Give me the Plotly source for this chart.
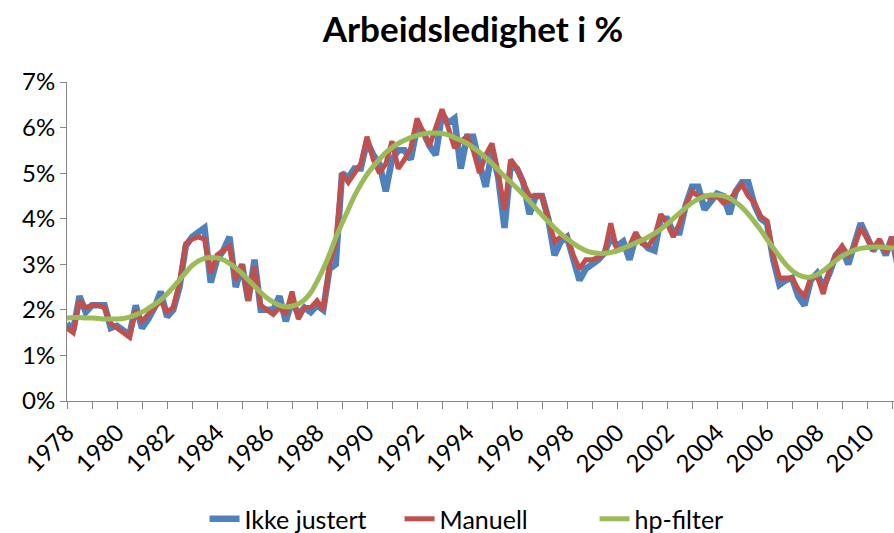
import plotly.graph_objects as go

start_year = 1978
# Quarterly unemployment rate (%), 1978Q1 onward
ikke_justert = [
    1.7, 1.55, 2.3, 1.95, 2.1, 2.1, 2.1, 1.6, 1.65, 1.55, 1.45, 2.1, 1.6, 1.8, 2.05, 2.4,
    1.85, 2.0, 2.5, 3.4, 3.6, 3.7, 3.8, 2.6, 3.1, 3.3, 3.6, 2.5, 3.0, 2.2, 3.1, 2.0,
    2.0, 2.0, 2.3, 1.75, 2.2, 1.9, 2.05, 1.95, 2.1, 2.0, 2.9, 3.0, 5.0, 4.9, 5.1, 5.1,
    5.7, 5.4, 5.2, 4.6, 5.3, 5.5, 5.5, 5.3, 6.0, 5.9, 5.6, 5.4, 6.3, 6.1, 6.2, 5.1,
    5.8, 5.8, 5.2, 4.7, 5.5, 4.9, 3.8, 5.2, 5.1, 4.8, 4.1, 4.5, 4.5, 4.0, 3.2, 3.5,
    3.6, 3.1, 2.65, 2.9, 3.0, 3.1, 3.25, 3.6, 3.4, 3.5, 3.1, 3.6, 3.5, 3.35, 3.3, 4.0,
    4.0, 3.7, 3.7, 4.3, 4.7, 4.7, 4.2, 4.4, 4.55, 4.5, 4.1, 4.6, 4.8, 4.8, 4.3, 4.0,
    3.9, 3.1, 2.55, 2.65, 2.7, 2.3, 2.1, 2.65, 2.8, 2.5, 2.8, 3.2, 3.35, 3.0, 3.4, 3.9,
    3.6, 3.3, 3.5, 3.2, 3.6, 2.9,
]
manuell = [
    1.6, 1.5, 2.2, 2.05, 2.1, 2.1, 2.05, 1.7, 1.6, 1.5, 1.4, 2.0, 1.75, 1.9, 2.05, 2.2,
    1.95, 2.05, 2.6, 3.45, 3.55, 3.6, 3.55, 2.8, 3.2, 3.3, 3.4, 2.65, 3.0, 2.2, 2.95, 2.1,
    2.0, 1.9, 2.05, 1.9, 2.4, 1.8, 2.05, 2.05, 2.2, 2.0, 3.0, 3.5, 5.0, 4.8, 5.0, 5.2,
    5.8, 5.3, 5.0, 5.2, 5.7, 5.1, 5.3, 5.55, 6.2, 5.9, 5.6, 6.0, 6.4, 6.0, 5.55, 5.7,
    5.8, 5.5, 5.0, 5.4, 5.65, 5.0, 4.2, 5.3, 5.1, 4.8, 4.5, 4.5, 4.5, 4.0, 3.5, 3.6,
    3.6, 3.2, 2.9, 3.1, 3.1, 3.15, 3.25, 3.9, 3.3, 3.35, 3.4, 3.7, 3.45, 3.4, 3.6, 4.1,
    3.9, 3.6, 3.9, 4.3, 4.6, 4.5, 4.5, 4.45, 4.5, 4.35, 4.4, 4.6, 4.75, 4.5, 4.35, 4.05,
    3.95, 3.2, 2.7, 2.7, 2.7, 2.45, 2.3, 2.7, 2.75, 2.35, 2.9, 3.2, 3.4, 3.2, 3.4, 3.8,
    3.55, 3.35, 3.55, 3.25, 3.6, 2.9,
]
hp_filter = [
    1.82, 1.83, 1.83, 1.82, 1.82, 1.81, 1.80, 1.80, 1.80, 1.81, 1.84, 1.89, 1.95, 2.03, 2.12, 2.22,
    2.35, 2.50, 2.66, 2.82, 2.97, 3.07, 3.13, 3.15, 3.14, 3.10, 3.02, 2.92, 2.80, 2.66, 2.52, 2.38,
    2.26, 2.17, 2.10, 2.07, 2.08, 2.13, 2.22, 2.38, 2.62, 2.90, 3.22, 3.58, 3.90, 4.20, 4.50, 4.75,
    4.97, 5.15, 5.30, 5.45, 5.56, 5.65, 5.72, 5.78, 5.83, 5.86, 5.88, 5.88, 5.87, 5.84, 5.78, 5.72,
    5.65, 5.56, 5.46, 5.34, 5.21, 5.07, 4.93, 4.80, 4.67, 4.53, 4.38, 4.23, 4.08, 3.94, 3.80, 3.67,
    3.56, 3.46, 3.37, 3.30, 3.26, 3.24, 3.24, 3.26, 3.30, 3.35, 3.41, 3.47, 3.53, 3.60, 3.68, 3.77,
    3.88, 4.00, 4.12, 4.24, 4.35, 4.43, 4.49, 4.52, 4.52, 4.50, 4.45, 4.36, 4.25, 4.10, 3.93, 3.75,
    3.55, 3.36, 3.17, 3.00, 2.86, 2.77, 2.72, 2.72, 2.77, 2.86, 2.97, 3.08, 3.18, 3.25, 3.31, 3.35,
    3.37, 3.38, 3.38, 3.37, 3.36, 3.35,
]
years = list(range(1978, 2013))
year_labels = [str(y) if (y - 1978) % 2 == 0 else "" for y in years]
y_ticks = [0, 1, 2, 3, 4, 5, 6, 7]
y_labels = [f"{v}%" for v in y_ticks]

t = [start_year + i / 4 for i in range(len(manuell))]

FONT = "Lato, 'Open Sans', sans-serif"

L, T, W, H = 67, 82, 894, 533
PLOT_BOTTOM = 401
PX_PER_YEAR = 25

fig = go.Figure()
fig.add_trace(go.Scatter(x=t, y=ikke_justert, mode="lines", name="Ikke justert",
                         line=dict(color="#4F81BD", width=6.5)))
fig.add_trace(go.Scatter(x=t, y=manuell, mode="lines", name="Manuell",
                         line=dict(color="#C0504D", width=5)))
fig.add_trace(go.Scatter(x=t, y=hp_filter, mode="lines", name="hp-filter",
                         line=dict(color="#9BBB59", width=5, shape="spline", smoothing=1.0)))

fig.update_layout(
    width=W, height=H,
    margin=dict(l=L, r=0, t=T, b=H - PLOT_BOTTOM, autoexpand=False),
    paper_bgcolor="white", plot_bgcolor="white",
    font=dict(family=FONT, size=24, color="black"),
    title=dict(text="<b>Arbeidsledighet i %</b>", x=0.491, xref="paper", xanchor="center",
               y=1 - 30 / H, yanchor="middle", font=dict(family=FONT, size=35, color="black")),
    showlegend=True,
    legend=dict(orientation="h", x=0.52, xanchor="center", y=-0.37, yanchor="middle",
                font=dict(family=FONT, size=25, color="black"),
                traceorder="normal", entrywidth=150, entrywidthmode="pixels"),
    xaxis=dict(range=[1978, 1978 + (W - L) / PX_PER_YEAR], tickmode="array", tickvals=years,
               ticktext=year_labels,
               tickangle=-45, ticks="outside", ticklen=7, tickcolor="#868686", tickwidth=1,
               showline=True, linecolor="#868686", linewidth=1, showgrid=False, zeroline=False,
               automargin=False, tickfont=dict(family=FONT, size=24, color="black")),
    yaxis=dict(range=[0, 7], tickmode="array", tickvals=y_ticks, ticktext=y_labels,
               ticks="outside", ticklen=6, tickcolor="#868686", tickwidth=1,
               showline=True, linecolor="#868686", linewidth=1, showgrid=False, zeroline=False,
               automargin=False, tickfont=dict(family=FONT, size=24, color="black")),
)

page_css = ("document.documentElement.style.margin='0';document.documentElement.style.overflow='hidden';"
            "document.body.style.margin='0';document.body.style.overflow='hidden';")
fig.write_html("out.html", post_script=page_css, config={"displayModeBar": False})
